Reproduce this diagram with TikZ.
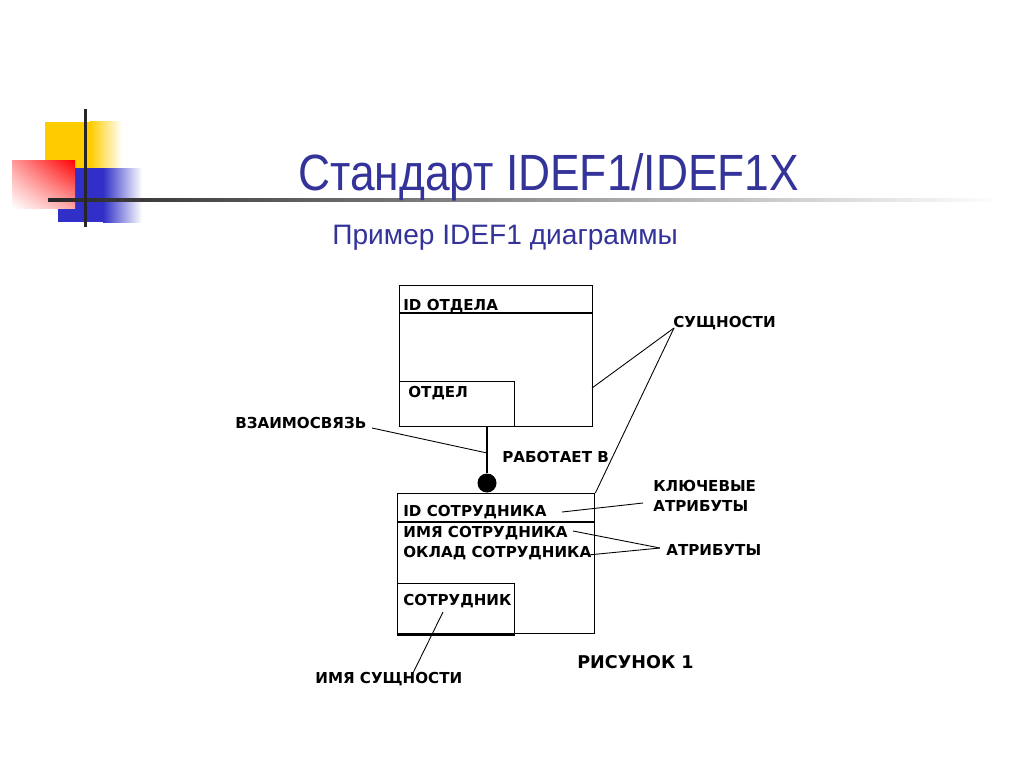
\documentclass[tikz,border=0pt]{standalone}
\usepackage{fontspec}
\setmainfont{Liberation Sans}
\newfontfamily\zagfont{Liberation Sans}[FakeStretch=0.87]
\newfontfamily\diagfont{DejaVu Sans}
\usetikzlibrary{positioning,calc,shadings}
\definecolor{zagcolor}{HTML}{333399}
\definecolor{zholtyj}{HTML}{FFCC00}
\definecolor{sinij}{HTML}{3030C8}

\begin{document}
\begin{tikzpicture}[
        x=0.02cm, y=-0.02cm,
        metka/.style={font=\diagfont\bfseries\fontsize{8.6}{10}\selectfont, inner sep=0pt, anchor=base west},
        sushch/.style={draw, line width=0.8pt, inner sep=0pt, anchor=north west},
        vynoska/.style={line width=0.5pt}
    ]
        \useasboundingbox[fill=white] (0,0) rectangle (1024,767);

        % ugolok slajda
        \fill[zholtyj] (45,122) rectangle (90,190);
        \shade[left color=zholtyj, right color=white] (90,122) rectangle (122,190);
        \fill[sinij] (58,168) rectangle (103,222);
        \shade[left color=sinij, right color=white] (103,168) rectangle (142,222);
        \shade[upper left=red!40, upper right=red, lower left=white, lower right=red!35] (12,160) rectangle (75,208);
        \shade[left color=black!85, right color=white] (48,198.5) rectangle (1000,201.5);
        \fill[black!85] (83.5,109) rectangle (86.5,227);

        \node[font=\zagfont\fontsize{29}{34}\selectfont, text=zagcolor, anchor=base west, inner sep=0pt] (zagolovok) at (298,190) {Стандарт IDEF1/IDEF1X};
        \node[font=\fontsize{16}{19}\selectfont, text=zagcolor, anchor=base west, inner sep=0pt] (podzag) at (332,244) {Пример IDEF1 диаграммы};

        % sushchnosti
        \node[sushch, minimum width=3.86cm, minimum height=2.82cm] (otdel) at (399,285) {};
        \draw[line width=0.8pt] ($(otdel.north west)+(0,28)$) -- ($(otdel.north east)+(0,28)$);
        \node[sushch, anchor=south west, minimum width=2.3cm, minimum height=0.9cm] (otdelimja) at (otdel.south west) {};

        \node[sushch, minimum width=3.94cm, minimum height=2.8cm] (sotr) at (397,493) {};
        \draw[line width=0.8pt] ($(sotr.north west)+(0,29)$) -- ($(sotr.north east)+(0,29)$);
        \node[sushch, anchor=south west, minimum width=2.34cm, minimum height=1cm] (sotrimja) at (sotr.south west) {};
        \draw[line width=1.8pt] (sotrimja.south west) -- (sotrimja.south east);

        \node[circle, fill, inner sep=0pt, minimum size=0.38cm] (tochka) at (487,483) {};
        \draw[line width=0.8pt] (tochka |- otdelimja.south) -- (tochka);

        % teksty
        \node[metka] (idotdela) at (403,310) {ID ОТДЕЛА};
        \node[metka] (otdeltxt) at (408,397) {ОТДЕЛ};
        \node[metka] (vzaim) at (235,428) {ВЗАИМОСВЯЗЬ};
        \node[metka] (rabotaet) at (502,462) {РАБОТАЕТ В};
        \node[metka] (sushchn) at (673,327) {СУЩНОСТИ};
        \node[metka] (kljuch) at (653,491) {КЛЮЧЕВЫЕ};
        \node[metka] (atrkl) at (653,511) {АТРИБУТЫ};
        \node[metka] (idsotr) at (403,516) {ID СОТРУДНИКА};
        \node[metka] (imjasotr) at (403,537) {ИМЯ СОТРУДНИКА};
        \node[metka] (oklad) at (403,557) {ОКЛАД СОТРУДНИКА};
        \node[metka] (atr) at (666,555) {АТРИБУТЫ};
        \node[metka] (sotrtxt) at (403,605) {СОТРУДНИК};
        \node[metka] (imjasushch) at (315,683) {ИМЯ СУЩНОСТИ};
        \node[metka, font=\diagfont\bfseries\fontsize{10}{12}\selectfont] (risunok) at (577,668) {РИСУНОК 1};

        % vynoski
        \coordinate (naSvyazi) at (487,453);
        \coordinate (otVzaim) at (372,428);
        \coordinate (otSushchn) at (674,328);
        \coordinate (kOtdelu) at (592,388);
        \coordinate (otKljuch) at (643,503);
        \coordinate (kIdSotr) at (562,512);
        \coordinate (otAtr) at (660,548);
        \coordinate (kImja) at (573,531);
        \coordinate (kOkladu) at (588,555);
        \coordinate (otImjaS) at (413,673);
        \coordinate (kSotrTxt) at (443,612);

        \draw[vynoska] (otVzaim) -- (naSvyazi);
        \draw[vynoska] (otSushchn) -- (kOtdelu);
        \draw[vynoska] (otSushchn) -- (sotr.north east);
        \draw[vynoska] (otKljuch) -- (kIdSotr);
        \draw[vynoska] (otAtr) -- (kImja);
        \draw[vynoska] (otAtr) -- (kOkladu);
        \draw[vynoska] (otImjaS) -- (kSotrTxt);
    \end{tikzpicture}
\end{document}
